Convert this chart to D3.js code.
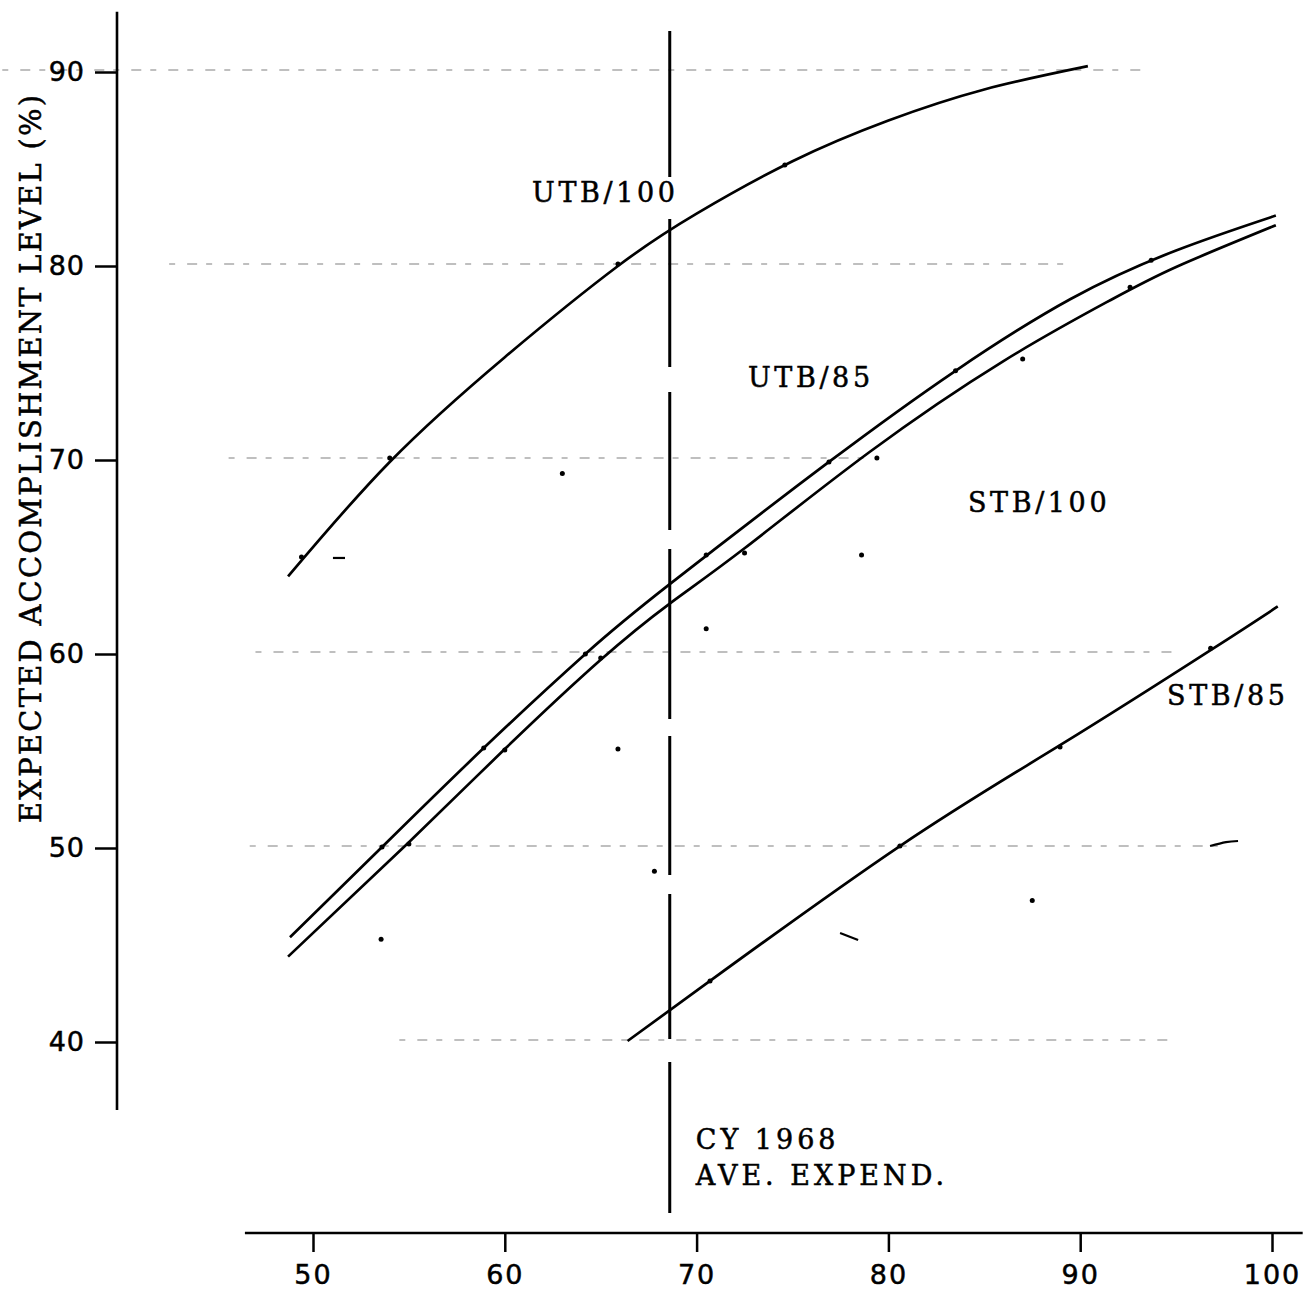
<!DOCTYPE html>
<html>
<head>
<meta charset="utf-8">
<script src="https://cdn.jsdelivr.net/npm/d3@7"></script>
<style>
  body { margin: 0; background: #fff; }
  svg { display: block; }
</style>
</head>
<body>
<script>
// tick values
const xTicks = [50, 60, 70, 80, 90, 100];
const yTicks = [40, 50, 60, 70, 80, 90];

// curves: [x, y]
const utb100 = [[48.7, 64.0], [54, 69.9], [60, 75.3], [65.9, 80.0], [70, 82.7], [75, 85.4],
  [80, 87.5], [85, 89.1], [90.4, 90.3]];
const utb85 = [[48.8, 45.4], [53.6, 50.05], [58.9, 55.15], [64.2, 60.0], [68.6, 63.6], [76.9, 69.9],
  [83.5, 74.6], [89.5, 78.3], [95, 80.8], [100.2, 82.6]];
const stb100 = [[48.7, 44.4], [55, 50.3], [60, 55.1], [65, 59.7], [68.6, 62.6], [72.5, 65.45],
  [79, 70.4], [86, 75.1], [91.5, 78.2], [95, 79.95], [100.2, 82.1]];
const stb85 = [[66.4, 40.05], [70.7, 43.15], [80.6, 50.1], [88.95, 55.3], [96.8, 60.2], [100.3, 62.45]];

// plotted dots
const dots = [[49.4, 65.0], [54, 70.1], [65.9, 80.1], [74.6, 85.2],
  [53.6, 50.05], [58.9, 55.15], [64.2, 60.0], [70.5, 65.1], [76.9, 69.9], [83.5, 74.6], [93.7, 80.3],
  [55, 50.2], [60, 55.05], [65, 59.8], [72.5, 65.2], [79.4, 70.1], [87, 75.2], [92.6, 78.9],
  [70.7, 43.15], [80.6, 50.1], [88.95, 55.2], [96.8, 60.3],
  [63.0, 69.3], [65.9, 55.1], [70.5, 61.3], [67.8, 48.8], [53.55, 45.3], [87.5, 47.3], [78.6, 65.1]];

// stray pen strokes on the sheet
const strokes = [
  [[51.04, 64.95], [51.67, 64.95]],
  [[77.48, 45.62], [78.42, 45.26]],
  [[96.77, 50.1], [97.6, 50.3], [98.23, 50.36]]
];

// labels
const curveLabels = [
  { text: "UTB/100", x: 61.42, y: 83.3 },
  { text: "UTB/85", x: 72.68, y: 73.76 },
  { text: "STB/100", x: 84.15, y: 67.32 },
  { text: "STB/85", x: 94.53, y: 57.37 }
];
const refX = 68.6;          // CY 1968 average expenditure
const refNote = ["CY 1968", "AVE. EXPEND."];
const yTitle = "EXPECTED ACCOMPLISHMENT LEVEL (%)";

// faint guide lines: [value, from x, to x]
const guides = [[90, 33.8, 93.5], [80, 42.5, 89.3], [70, 45.6, 79.5], [60, 47.0, 95.0], [50, 46.7, 97.5], [40, 54.5, 95.0]];

const W = 1307, H = 1298;
const x = d3.scaleLinear().domain([50, 100]).range([313, 1272]);
const y = d3.scaleLinear().domain([40, 90]).range([1042, 72]);

const svg = d3.select("body").append("svg")
  .attr("width", W).attr("height", H);

// guides
svg.append("g").selectAll("line")
  .data(guides)
  .enter().append("line")
  .attr("x1", d => x(d[1])).attr("x2", d => x(d[2]))
  .attr("y1", d => y(d[0]) - 2).attr("y2", d => y(d[0]) - 2)
  .attr("stroke", "#aaa")
  .attr("stroke-width", 1.4)
  .attr("stroke-dasharray", "6 12 10 9");

// y axis
const yAxis = svg.append("g")
  .attr("transform", "translate(117,0)")
  .call(d3.axisLeft(y).tickValues(yTicks).tickSize(22).tickPadding(10));
yAxis.select(".domain").remove();
yAxis.selectAll(".tick line").attr("stroke", "#000").attr("stroke-width", 2.5);
yAxis.selectAll("text")
  .attr("font-family", "DejaVu Sans")
  .attr("font-size", 27)
  .attr("fill", "#000")
  .attr("stroke", "#000").attr("stroke-width", 0.5)
  .attr("letter-spacing", 1);
svg.append("line")
  .attr("x1", 117).attr("x2", 117)
  .attr("y1", y(93.1)).attr("y2", y(36.5))
  .attr("stroke", "#000").attr("stroke-width", 2.6);

// x axis
const xAxis = svg.append("g")
  .attr("transform", "translate(0,1233)")
  .call(d3.axisBottom(x).tickValues(xTicks).tickSize(19).tickPadding(13));
xAxis.select(".domain").remove();
xAxis.selectAll(".tick line").attr("stroke", "#000").attr("stroke-width", 2.5);
xAxis.selectAll("text")
  .attr("font-family", "DejaVu Sans")
  .attr("font-size", 27)
  .attr("fill", "#000")
  .attr("stroke", "#000").attr("stroke-width", 0.5)
  .attr("letter-spacing", 2);
svg.append("line")
  .attr("x1", x(46.45)).attr("x2", x(101.6))
  .attr("y1", 1233).attr("y2", 1233)
  .attr("stroke", "#000").attr("stroke-width", 2.6);

// y title
svg.append("text")
  .attr("transform", `translate(41,${(95 + 823) / 2}) rotate(-90)`)
  .attr("text-anchor", "middle")
  .attr("font-family", "DejaVu Serif")
  .attr("font-size", 29)
  .attr("stroke", "#000").attr("stroke-width", 0.5)
  .attr("textLength", 728)
  .attr("lengthAdjust", "spacing")
  .text(yTitle);

// reference line
svg.append("line")
  .attr("x1", x(refX)).attr("x2", x(refX))
  .attr("y1", 31).attr("y2", 1213)
  .attr("stroke", "#000").attr("stroke-width", 3)
  .attr("stroke-dasharray", "146 42 148 25 138 19 170 17 139 19 145 23 151 40");

svg.append("g").selectAll("text")
  .data(refNote)
  .enter().append("text")
  .attr("x", x(refX) + 26)
  .attr("y", (d, i) => 1149 + i * 36)
  .attr("font-family", "DejaVu Serif")
  .attr("font-size", 27)
  .attr("stroke", "#000").attr("stroke-width", 0.5)
  .attr("letter-spacing", 4)
  .text(d => d);

// curves
const line = d3.line()
  .x(d => x(d[0])).y(d => y(d[1]))
  .curve(d3.curveNatural);

svg.append("g").selectAll("path")
  .data([utb100, utb85, stb100, stb85])
  .enter().append("path")
  .attr("d", line)
  .attr("fill", "none")
  .attr("stroke", "#000")
  .attr("stroke-width", 2.7);

svg.append("g").selectAll("path")
  .data(strokes)
  .enter().append("path")
  .attr("d", d3.line().x(d => x(d[0])).y(d => y(d[1])).curve(d3.curveNatural))
  .attr("fill", "none")
  .attr("stroke", "#000")
  .attr("stroke-width", 2.2);

svg.append("g").selectAll("circle")
  .data(dots)
  .enter().append("circle")
  .attr("cx", d => x(d[0])).attr("cy", d => y(d[1]))
  .attr("r", 2.5)
  .attr("fill", "#000");

svg.append("g").selectAll("text")
  .data(curveLabels)
  .enter().append("text")
  .attr("x", d => x(d.x)).attr("y", d => y(d.y))
  .attr("font-family", "DejaVu Serif")
  .attr("font-size", 27)
  .attr("stroke", "#000").attr("stroke-width", 0.5)
  .attr("letter-spacing", 3.6)
  .text(d => d.text);
</script>
</body>
</html>
